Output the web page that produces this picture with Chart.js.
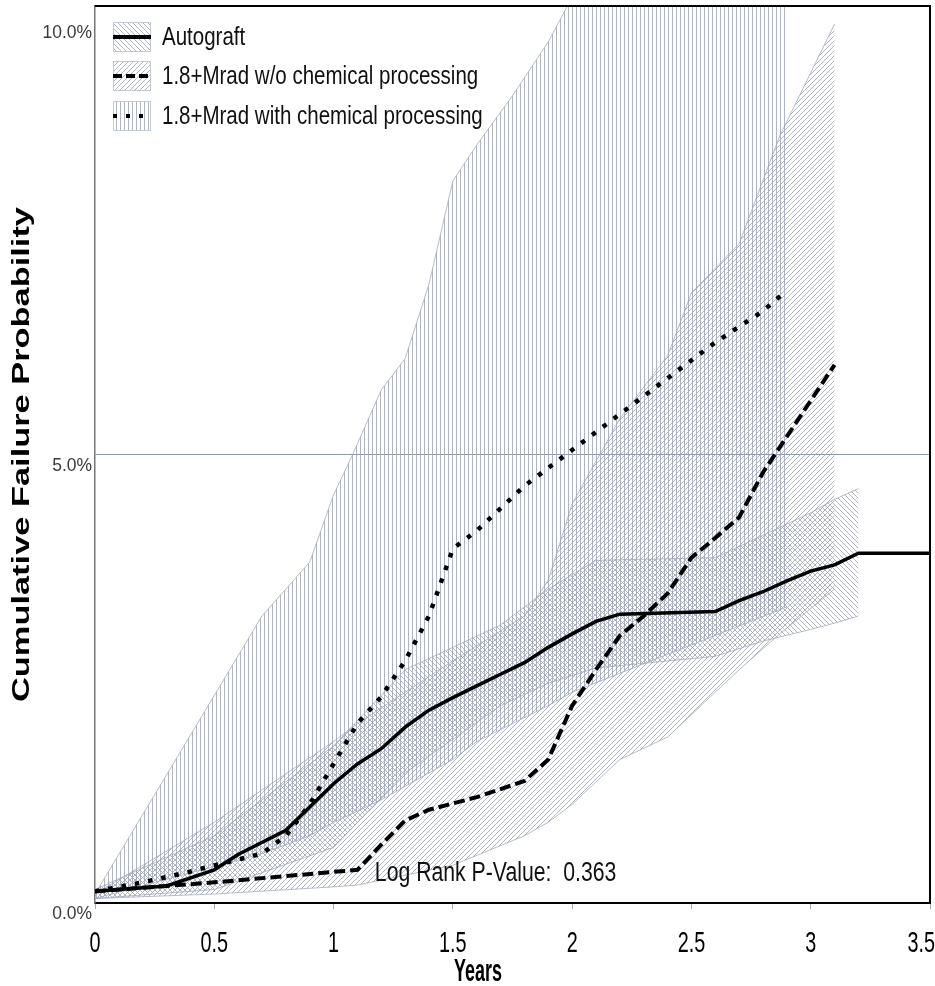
<!DOCTYPE html>
<html><head><meta charset="utf-8">
<script src="https://cdn.jsdelivr.net/npm/chart.js@4.4.0/dist/chart.umd.min.js"></script>
<style>html,body{margin:0;padding:0;background:#fff;overflow:hidden}#wrap{width:935px;height:986px;position:relative}</style>
</head><body><div id="wrap"><canvas id="c" width="935" height="986"></canvas></div>
<script>
// ---- data ----
const seriesNames = ['Autograft', '1.8+Mrad w/o chemical processing', '1.8+Mrad with chemical processing'];
const xTickLabels = ['0', '0.5', '1', '1.5', '2', '2.5', '3', '3.5'];
const yTickLabels = ['0.0%', '5.0%', '10.0%'];
const yTitleText = 'Cumulative Failure Probability';
const xTitleText = 'Years';
const pValueText = 'Log Rank P-Value:  0.363';

// Autograft (solid)
const autoT = [0, 0.3, 0.5, 0.6, 0.8, 0.9, 1.0, 1.1, 1.2, 1.3, 1.4, 1.5, 1.6, 1.7, 1.8, 1.9, 2.0, 2.1, 2.2, 2.6, 2.7, 2.8, 2.9, 3.0, 3.1, 3.2, 3.5];
const autoY = [0.13, 0.19, 0.37, 0.54, 0.81, 1.07, 1.33, 1.55, 1.72, 1.96, 2.15, 2.29, 2.42, 2.55, 2.68, 2.85, 3.0, 3.14, 3.22, 3.25, 3.37, 3.47, 3.59, 3.70, 3.77, 3.90, 3.90];
// w/o chemical (dashed)
const woT = [0, 0.3, 0.5, 1.1, 1.2, 1.3, 1.4, 1.6, 1.8, 1.9, 2.0, 2.1, 2.2, 2.3, 2.4, 2.5, 2.6, 2.7, 2.8, 2.9, 3.0, 3.1];
const woY = [0.13, 0.19, 0.23, 0.37, 0.65, 0.92, 1.04, 1.18, 1.36, 1.6, 2.2, 2.6, 2.98, 3.2, 3.45, 3.85, 4.07, 4.3, 4.8, 5.2, 5.6, 6.0];
// with chemical (dotted)
const wiT = [0, 0.2, 0.4, 0.5, 0.7, 0.8, 0.9, 1.0, 1.1, 1.2, 1.3, 1.4, 1.5, 1.6, 1.8, 2.0, 2.2, 2.4, 2.6, 2.8, 2.9];
const wiY = [0.13, 0.23, 0.35, 0.42, 0.55, 0.75, 1.1, 1.55, 2.0, 2.3, 2.7, 3.2, 3.95, 4.15, 4.65, 5.05, 5.45, 5.85, 6.25, 6.6, 6.83];

// confidence bands
const agBandT = [0, 0.5, 1.0, 1.3, 1.7, 1.9, 2.1, 2.6, 2.8, 3.0, 3.1, 3.2];
const agBandUp = [0.15, 0.75, 1.75, 2.6, 3.1, 3.5, 3.82, 3.85, 4.1, 4.35, 4.5, 4.62];
const agBandLo = [0.05, 0.15, 0.62, 1.45, 2.2, 2.45, 2.62, 2.75, 2.92, 3.05, 3.12, 3.2];

const woBandT = [0, 0.5, 1.0, 1.1, 1.5, 1.8, 1.9, 2.0, 2.2, 2.4, 2.5, 2.7, 2.87, 3.1];
const woBandUp = [0.1, 0.9, 1.8, 2.0, 2.7, 3.2, 3.6, 4.45, 5.4, 6.1, 6.8, 7.35, 8.55, 9.8];
const woBandLo = [0.05, 0.1, 0.18, 0.2, 0.42, 0.75, 0.9, 1.1, 1.6, 1.85, 2.1, 2.6, 3.0, 3.5];

const wiBandT = [0, 0.7, 0.9, 1.0, 1.08, 1.2, 1.3, 1.4, 1.5, 1.6, 1.75, 1.9, 2.0, 2.9];
const wiBandUp = [0.1, 3.2, 3.8, 4.55, 5.0, 5.72, 6.07, 6.9, 8.05, 8.45, 9.0, 9.6, 10.1, 10.5];
const wiBandLo = [0.05, 0.55, 0.75, 0.9, 1.0, 1.15, 1.3, 1.45, 1.6, 1.8, 2.0, 2.2, 2.35, 3.3];

// ---- styling ----
const SANS = '"Liberation Sans", Arial, sans-serif';
const HATCH = 'rgba(155,162,182,0.8)';
const EDGE = 'rgba(165,172,190,0.8)';
const GRID = '#8e97ae';

const canvas = document.getElementById('c');
const ctx = canvas.getContext('2d');

function makePattern(kind) {
  const s = kind === 'v' ? 4 : 5;
  const c = document.createElement('canvas');
  c.width = s; c.height = s;
  const g = c.getContext('2d');
  g.strokeStyle = HATCH; g.fillStyle = HATCH; g.lineWidth = 1;
  if (kind === 'v') {
    g.fillRect(0, 0, 1, s);
  } else {
    for (let k = -1; k <= 1; k++) {
      g.beginPath();
      if (kind === 'f') { g.moveTo(k * s, s); g.lineTo(k * s + s, 0); }
      else { g.moveTo(k * s, 0); g.lineTo(k * s + s, s); }
      g.stroke();
    }
  }
  return ctx.createPattern(c, 'repeat');
}
const patBack = makePattern('b');   // Autograft  \\\
const patFwd = makePattern('f');    // w/o        ///
const patVert = makePattern('v');   // with       |||

const pts = (t, y) => t.map((v, i) => ({ x: v, y: y[i] }));

function bandPair(t, up, lo, pat, lowerIndex) {
  return [
    { data: pts(t, up), fill: { target: lowerIndex }, backgroundColor: pat, borderColor: EDGE, borderWidth: 1, pointRadius: 0, tension: 0, order: 2, clip: 0 },
    { data: pts(t, lo), fill: false, borderColor: EDGE, borderWidth: 1, pointRadius: 0, tension: 0, order: 2, clip: 0 }
  ];
}

const datasets = [
  ...bandPair(wiBandT, wiBandUp, wiBandLo, patVert, 1),
  ...bandPair(woBandT, woBandUp, woBandLo, patFwd, 3),
  ...bandPair(agBandT, agBandUp, agBandLo, patBack, 5),
  { label: seriesNames[0], data: pts(autoT, autoY), borderColor: '#000', borderWidth: 3.5, pointRadius: 0, fill: false, tension: 0, order: 0 },
  { label: seriesNames[1], data: pts(woT, woY), borderColor: '#000', borderWidth: 4, borderDash: [11, 5], pointRadius: 0, fill: false, tension: 0, order: 0 },
  { label: seriesNames[2], data: pts(wiT, wiY), borderColor: '#000', borderWidth: 4.5, borderDash: [4.5, 9], pointRadius: 0, fill: false, tension: 0, order: 0 }
];

const legendPats = [patBack, patFwd, patVert];
const legendDash = [[], [9, 4], [4, 9]];

// draw text horizontally compressed (the reference uses a narrow face)
function narrowText(c, text, x, y, size, hscale, align, bold, maxRight) {
  c.save();
  c.font = (bold ? 'bold ' : '') + size + 'px ' + SANS;
  c.textBaseline = 'middle';
  c.textAlign = 'left';
  const w = c.measureText(text).width * hscale;
  let x0 = x;
  if (align === 'center') x0 = x - w / 2;
  else if (align === 'right') x0 = x - w;
  if (maxRight !== undefined && x0 + w > maxRight) x0 = maxRight - w;
  c.translate(x0, y);
  c.scale(hscale, 1);
  c.fillText(text, 0, 0);
  c.restore();
}

const overlay = {
  id: 'overlay',
  afterDraw(chart) {
    const c = chart.ctx, a = chart.chartArea;
    const xs = chart.scales.x, ys = chart.scales.y;
    c.save();
    // frame: top and right
    c.strokeStyle = '#000'; c.lineWidth = 2;
    c.beginPath(); c.moveTo(a.left, a.top); c.lineTo(a.right, a.top); c.lineTo(a.right, a.bottom); c.stroke();
    // y tick labels (drawn just below their value)
    c.fillStyle = '#3a3a3a';
    ys.ticks.forEach((t, i) => {
      const py = ys.getPixelForValue(t.value);
      narrowText(c, yTickLabels[i], a.left - 3, Math.max(py + 11, a.top + 27), 19, 0.92, 'right', false);
    });
    // x tick labels
    c.fillStyle = '#000';
    xs.ticks.forEach((t, i) => {
      narrowText(c, xTickLabels[i], xs.getPixelForValue(t.value), 944, 30, 0.66, 'center', false, 935);
    });
    // x title
    narrowText(c, xTitleText, 478, 972, 32, 0.56, 'center', true);
    // y title (bold, stretched along its length)
    c.save();
    c.font = 'bold 24px ' + SANS; c.fillStyle = '#000';
    const w = c.measureText(yTitleText).width;
    c.translate(22, (a.top + a.bottom) / 2);
    c.rotate(-Math.PI / 2);
    c.scale(495 / w, 1);
    c.textAlign = 'center'; c.textBaseline = 'middle';
    c.fillText(yTitleText, 0, 0);
    c.restore();
    // legend
    const rows = [37, 76, 116];
    rows.forEach((cy, i) => {
      c.fillStyle = '#fff';
      c.fillRect(113, cy - 15, 38, 30);
      c.fillStyle = legendPats[i];
      c.fillRect(113, cy - 15, 38, 30);
      c.strokeStyle = 'rgba(190,196,210,0.9)'; c.lineWidth = 1; c.setLineDash([]);
      c.strokeRect(113.5, cy - 14.5, 37, 29);
      c.strokeStyle = '#000'; c.lineWidth = 4; c.setLineDash(legendDash[i]);
      c.beginPath(); c.moveTo(113, cy); c.lineTo(151, cy); c.stroke();
      c.setLineDash([]);
      c.fillStyle = '#111';
      narrowText(c, seriesNames[i], 162, cy + 1, 25, 0.82, 'left', false);
    });
    // p-value annotation
    c.fillStyle = '#111';
    narrowText(c, pValueText, xs.getPixelForValue(1.173), ys.getPixelForValue(0.33), 27, 0.786, 'left', false);
    c.restore();
  }
};

new Chart(ctx, {
  type: 'line',
  data: { datasets },
  options: {
    responsive: false, animation: false, devicePixelRatio: 1,
    layout: { padding: { top: 6, right: 5, left: 0, bottom: 0 } },
    plugins: { legend: { display: false }, tooltip: { enabled: false } },
    scales: {
      x: {
        type: 'linear', min: 0, max: 3.5,
        afterFit(s) { s.height = 83; s.paddingLeft = 0; s.paddingRight = 0; },
        ticks: { stepSize: 0.5, display: false, autoSkip: false },
        grid: { drawOnChartArea: false, tickLength: 6, color: '#aaa' },
        border: { color: '#000', width: 2 }
      },
      y: {
        type: 'linear', min: 0, max: 10,
        afterFit(s) { s.width = 95; },
        ticks: { stepSize: 5, display: false },
        grid: { drawTicks: false, color: (c) => (c.tick && c.tick.value === 5) ? GRID : 'rgba(0,0,0,0)', lineWidth: 1 },
        border: { color: '#777', width: 1.5 }
      }
    }
  },
  plugins: [overlay]
});
</script>
</body></html>
